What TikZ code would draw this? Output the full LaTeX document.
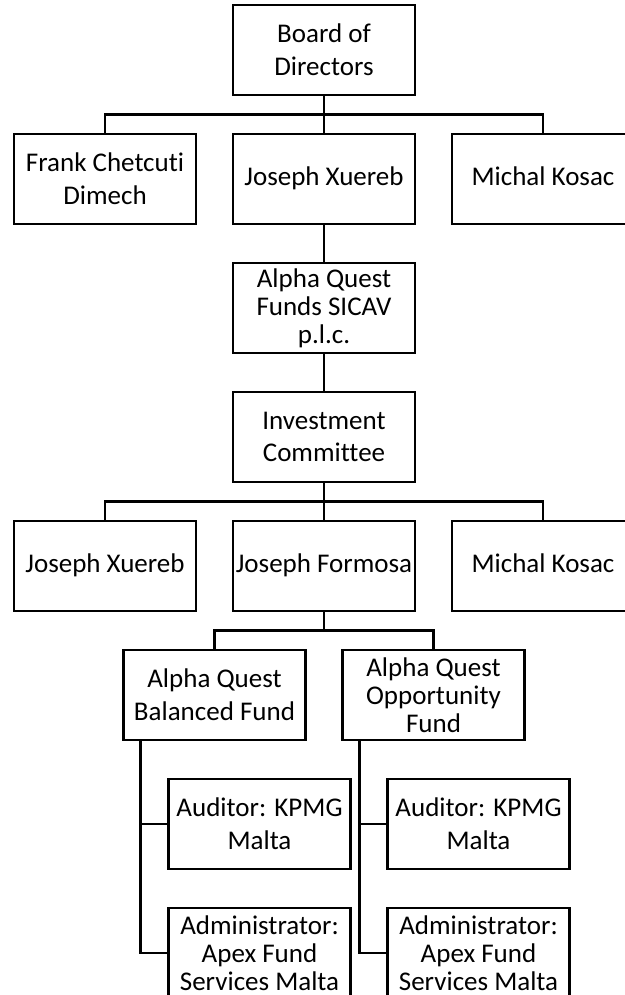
\documentclass[tikz,border=0pt]{standalone}
\usepackage{fontspec}
\setmainfont{Carlito}[Ligatures=NoCommon]
\usetikzlibrary{positioning,calc}

\begin{document}
\begin{tikzpicture}[x=0.5pt,y=-0.5pt,line width=1.2pt,node distance=64.5pt,
      org box/.style={draw,line width=1.2pt,minimum width=91pt,minimum height=45pt,
        inner sep=1pt,align=center,font=\fontsize{13.5}{16.3}\selectfont},
      three lines/.style={font=\fontsize{13.5}{14}\selectfont},
      one line/.style={text depth=.25em}]
    \clip (0,0) rectangle (625,995);
    \node[org box] (board) at (324,50) {Board of\\Directors};
    \node[org box,one line] (xuereb) [below of=board] {Joseph Xuereb};
    \node[org box] (chetcuti) [node distance=109.5pt,left of=xuereb] {Frank Chetcuti\\Dimech};
    \node[org box,one line] (kosac) [node distance=109.5pt,right of=xuereb] {Michal Kosac};
    \node[org box,three lines] (sicav) [below of=xuereb] {Alpha Quest\\Funds SICAV\\p.l.c.};
    \node[org box] (ic) [below of=sicav] {Investment\\Committee};
    \node[org box,one line] (formosa) [below of=ic] {Joseph Formosa};
    \node[org box,one line] (xuereb2) [node distance=109.5pt,left of=formosa] {Joseph Xuereb};
    \node[org box,one line] (kosac2) [node distance=109.5pt,right of=formosa] {Michal Kosac};
    \node[org box] (balanced) [below of=formosa,xshift=-54.75pt] {Alpha Quest\\Balanced Fund};
    \node[org box,three lines] (opport) [below of=formosa,xshift=54.75pt] {Alpha Quest\\Opportunity\\Fund};
    \node[org box] (aud1) [below of=balanced,xshift=22.5pt] {Auditor: KPMG\\Malta};
    \node[org box,three lines] (adm1) [below of=aud1] {Administrator:\\Apex Fund\\Services Malta};
    \node[org box] (aud2) [below of=opport,xshift=22.5pt] {Auditor: KPMG\\Malta};
    \node[org box,three lines] (adm2) [below of=aud2] {Administrator:\\Apex Fund\\Services Malta};

    % bars between levels
    \coordinate (bar1) at ($(board.south)!0.5!(xuereb.north)$);
    \coordinate (bar2) at ($(ic.south)!0.5!(kosac2.north)$);
    \coordinate (bar3) at ($(formosa.south)!0.5!(opport.north)$);
    \coordinate (spine1) at ($(balanced.south west)+(18,0)$);
    \coordinate (spine2) at ($(opport.south west)+(18,0)$);

    \draw (board) -- (xuereb);
    \draw (chetcuti.north) |- (bar1) -| (kosac.north);
    \draw (xuereb) -- (sicav);
    \draw (sicav) -- (ic);
    \draw (ic) -- (formosa);
    \draw (xuereb2.north) |- (bar2) -| (kosac2.north);
    \draw (formosa) -- (bar3 -| formosa);
    \draw (balanced.north) |- (bar3) -| (opport.north);
    \draw (spine1) |- (adm1.west);
    \draw (spine1 |- aud1.west) -- (aud1.west);
    \draw (spine2) |- (adm2.west);
    \draw (spine2 |- aud2.west) -- (aud2.west);
  \end{tikzpicture}
\end{document}
